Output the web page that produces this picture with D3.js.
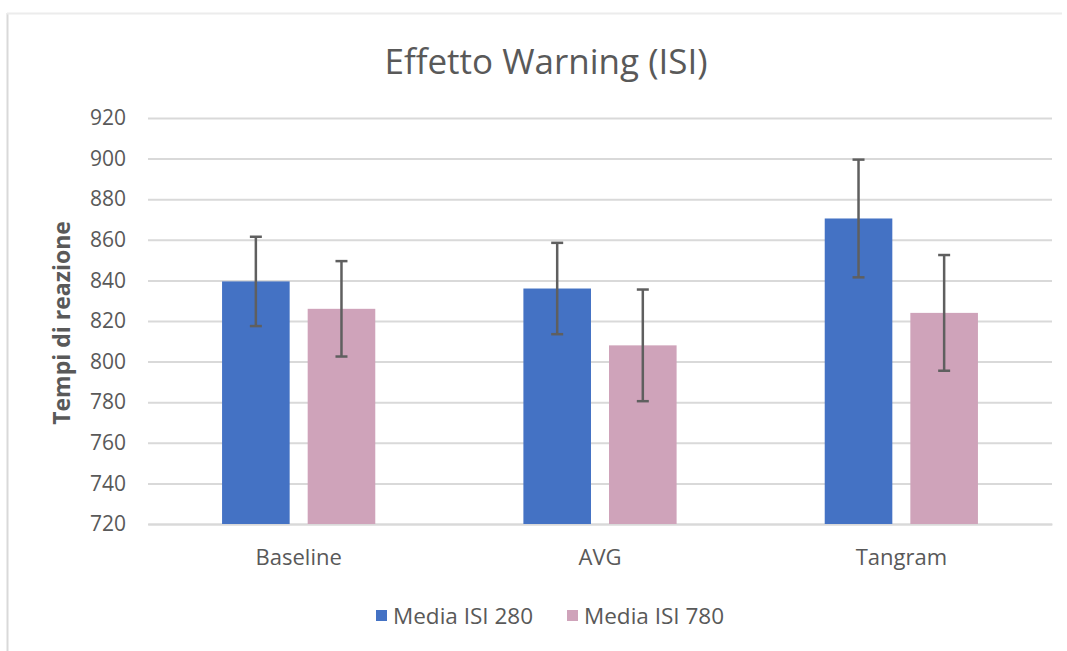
<!DOCTYPE html>
<html><head><meta charset="utf-8">
<script src="https://cdn.jsdelivr.net/npm/d3@7"></script>
<style>
html,body{margin:0;padding:0;background:#fff;}
text{font-family:"Open Sans",sans-serif;}
</style></head>
<body>
<svg id="chart" width="1067" height="651"></svg>
<script>
const categories = ["Baseline", "AVG", "Tangram"];
const seriesNames = ["Media ISI 280", "Media ISI 780"];
const values280 = [839.5, 836, 870.5];
const values780 = [826, 808, 824];
const errors280 = [22, 22.5, 29];
const errors780 = [23.5, 27.5, 28.5];
const yTicks = [720, 740, 760, 780, 800, 820, 840, 860, 880, 900, 920];
const colors = ["#4472C4", "#CFA3BA"];

const svg = d3.select("#chart");
const W = 1067, H = 651;
const plot = {left: 148, right: 1052, top: 118, bottom: 524};

// frame
svg.append("line").attr("x1", 7.5).attr("x2", 7.5).attr("y1", 13).attr("y2", H).attr("stroke", "#d9d9d9").attr("stroke-width", 2);
svg.append("line").attr("x1", 7).attr("x2", 1062).attr("y1", 13.5).attr("y2", 13.5).attr("stroke", "#ececec").attr("stroke-width", 2);

const y = d3.scaleLinear().domain([720, 920]).range([plot.bottom, plot.top]);
const x0 = d3.scaleBand().domain(categories).range([plot.left, plot.right]).padding(0);
const x1 = d3.scaleBand().domain(seriesNames).range([0, x0.bandwidth()]).paddingInner(0.2105).paddingOuter(0.865);

// gridlines
const yAxis = d3.axisLeft(y).tickValues(yTicks).tickSize(-(plot.right - plot.left)).tickPadding(22);
const gy = svg.append("g").attr("transform", `translate(${plot.left},0)`).call(yAxis);
gy.select(".domain").remove();
gy.selectAll(".tick line").attr("stroke", "#d9d9d9").attr("stroke-width", 2);
gy.selectAll(".tick text").attr("fill", "#595959").style("font-size", "21px").style("font-family", "'Open Sans',sans-serif");

// x axis labels
const xAxis = d3.axisBottom(x0).tickSize(0).tickPadding(25);
const gx = svg.append("g").attr("transform", `translate(0,${plot.bottom})`).call(xAxis);
gx.select(".domain").attr("stroke", "#d9d9d9").attr("stroke-width", 2);
gx.selectAll(".tick text").attr("fill", "#595959").style("font-size", "22px").style("font-family", "'Open Sans',sans-serif");

const data = categories.map((c, i) => ({
  cat: c,
  items: [
    {s: seriesNames[0], v: values280[i], e: errors280[i], c: colors[0]},
    {s: seriesNames[1], v: values780[i], e: errors780[i], c: colors[1]}
  ]
}));

const groups = svg.append("g").selectAll("g").data(data).join("g")
  .attr("transform", d => `translate(${x0(d.cat)},0)`);

groups.selectAll("rect").data(d => d.items).join("rect")
  .attr("x", d => x1(d.s)).attr("width", x1.bandwidth())
  .attr("y", d => y(d.v)).attr("height", d => y(720) - y(d.v))
  .attr("fill", d => d.c);

const eb = groups.selectAll("g.eb").data(d => d.items).join("g").attr("class", "eb");
const ec = "#5f5f5f";
eb.append("line")
  .attr("x1", d => x1(d.s) + x1.bandwidth() / 2).attr("x2", d => x1(d.s) + x1.bandwidth() / 2)
  .attr("y1", d => y(d.v + d.e)).attr("y2", d => y(d.v - d.e))
  .attr("stroke", ec).attr("stroke-width", 2.5);
eb.append("line")
  .attr("x1", d => x1(d.s) + x1.bandwidth() / 2 - 6).attr("x2", d => x1(d.s) + x1.bandwidth() / 2 + 6)
  .attr("y1", d => y(d.v + d.e)).attr("y2", d => y(d.v + d.e))
  .attr("stroke", ec).attr("stroke-width", 2.5);
eb.append("line")
  .attr("x1", d => x1(d.s) + x1.bandwidth() / 2 - 6).attr("x2", d => x1(d.s) + x1.bandwidth() / 2 + 6)
  .attr("y1", d => y(d.v - d.e)).attr("y2", d => y(d.v - d.e))
  .attr("stroke", ec).attr("stroke-width", 2.5);

// title
svg.append("text").attr("x", 546).attr("y", 74).attr("text-anchor", "middle")
  .attr("fill", "#595959").style("font-size", "35px").text("Effetto Warning (ISI)");

// y title
svg.append("text").attr("transform", "translate(70,323) rotate(-90)").attr("text-anchor", "middle")
  .attr("fill", "#595959").style("font-size", "23px").style("font-weight", "bold").text("Tempi di reazione");

// legend
const legX = [376, 567];
const leg = svg.append("g").selectAll("g").data(seriesNames).join("g")
  .attr("transform", (d, i) => `translate(${legX[i]},616)`);
leg.append("rect").attr("x", 0).attr("y", -6).attr("width", 11).attr("height", 11).attr("fill", (d, i) => colors[i]);
leg.append("text").attr("x", 17).attr("y", 8).attr("fill", "#595959").style("font-size", "22.5px").text(d => d);
</script>
</body></html>
